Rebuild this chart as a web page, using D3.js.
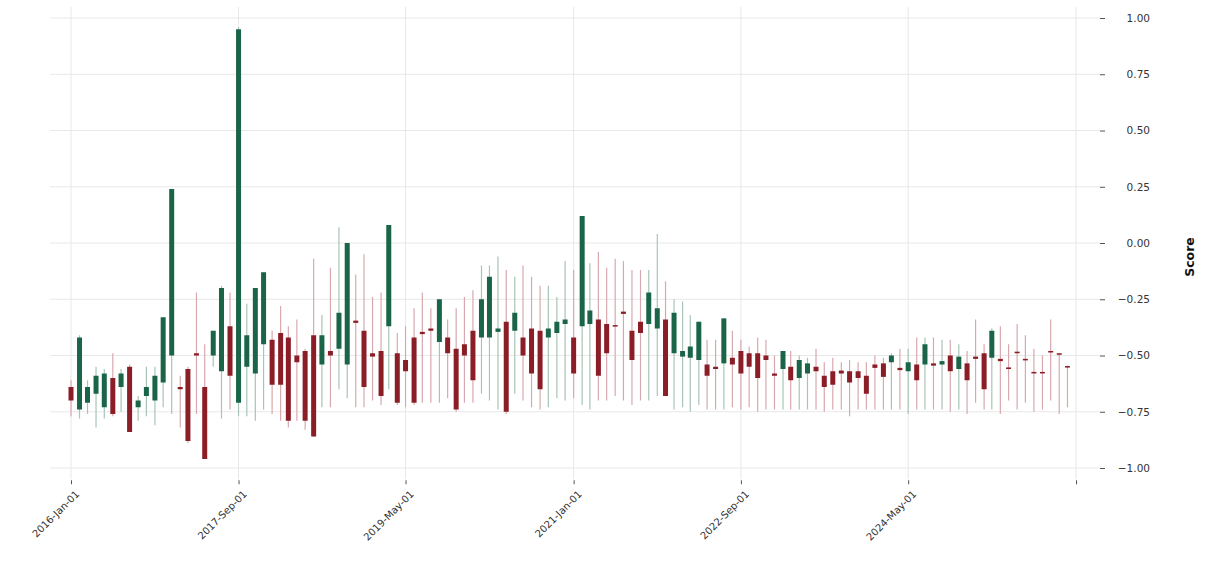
<!DOCTYPE html>
<html>
<head>
<meta charset="utf-8">
<script src="https://cdn.jsdelivr.net/npm/d3@7"></script>
<style>
html,body{margin:0;padding:0;background:#fff;}
svg{display:block;font-family:"DejaVu Sans",sans-serif;}
</style>
</head>
<body>
<svg id="chart" width="1206" height="563"></svg>
<script>
const startMonth = "2016-01-01";
const tickDates = ["2016-01-01","2017-09-01","2019-05-01","2021-01-01","2022-09-01","2024-05-01","2026-01-01"];
const tickLabels = ["2016-Jan-01","2017-Sep-01","2019-May-01","2021-Jan-01","2022-Sep-01","2024-May-01",""];
const yTicks = [1.00,0.75,0.50,0.25,0.00,-0.25,-0.50,-0.75,-1.00];

const openV = [-0.64,-0.74,-0.71,-0.67,-0.73,-0.60,-0.64,-0.55,-0.73,-0.68,
-0.70,-0.62,-0.50,-0.64,-0.56,-0.49,-0.64,-0.50,-0.57,-0.37,
-0.71,-0.55,-0.58,-0.45,-0.43,-0.40,-0.42,-0.50,-0.48,-0.41,
-0.54,-0.48,-0.47,-0.54,-0.345,-0.39,-0.49,-0.48,-0.37,-0.49,
-0.52,-0.42,-0.395,-0.38,-0.44,-0.42,-0.47,-0.45,-0.39,-0.42,
-0.42,-0.395,-0.35,-0.39,-0.42,-0.38,-0.39,-0.42,-0.40,-0.36,
-0.42,-0.37,-0.36,-0.34,-0.36,-0.365,-0.305,-0.39,-0.35,-0.36,
-0.38,-0.34,-0.49,-0.505,-0.51,-0.52,-0.54,-0.55,-0.535,-0.51,
-0.48,-0.49,-0.49,-0.50,-0.58,-0.56,-0.55,-0.60,-0.58,-0.55,
-0.59,-0.57,-0.567,-0.57,-0.57,-0.59,-0.54,-0.535,-0.53,-0.555,
-0.57,-0.54,-0.54,-0.535,-0.54,-0.50,-0.56,-0.535,-0.505,-0.49,
-0.51,-0.515,-0.553,-0.483,-0.515,-0.573,-0.573,-0.48,-0.49,-0.547];
const highV = [-0.61,-0.41,-0.61,-0.55,-0.56,-0.49,-0.56,-0.54,-0.68,-0.55,
-0.55,-0.33,0.24,-0.59,-0.55,-0.22,-0.45,-0.39,-0.19,-0.22,
0.96,-0.27,-0.20,-0.13,-0.39,-0.28,-0.37,-0.34,-0.47,-0.07,
-0.32,-0.11,0.07,0.00,-0.14,-0.05,-0.24,-0.22,0.08,-0.40,
-0.37,-0.29,-0.22,-0.29,-0.25,-0.34,-0.29,-0.24,-0.21,-0.10,
-0.10,-0.06,-0.12,-0.15,-0.10,-0.15,-0.19,-0.19,-0.24,-0.08,
-0.12,0.12,-0.09,-0.04,-0.11,-0.07,-0.08,-0.12,-0.12,-0.12,
0.04,-0.17,-0.25,-0.26,-0.32,-0.35,-0.43,-0.43,-0.335,-0.39,
-0.43,-0.46,-0.42,-0.43,-0.50,-0.48,-0.48,-0.50,-0.51,-0.47,
-0.53,-0.51,-0.53,-0.52,-0.53,-0.53,-0.50,-0.51,-0.49,-0.47,
-0.47,-0.42,-0.42,-0.42,-0.43,-0.43,-0.45,-0.48,-0.34,-0.45,
-0.38,-0.37,-0.45,-0.36,-0.41,-0.47,-0.50,-0.34,-0.49,-0.545];
const lowV = [-0.77,-0.78,-0.76,-0.82,-0.78,-0.77,-0.75,-0.84,-0.79,-0.77,
-0.81,-0.73,-0.76,-0.82,-0.89,-0.76,-0.96,-0.55,-0.78,-0.74,
-0.77,-0.77,-0.79,-0.74,-0.76,-0.79,-0.82,-0.79,-0.83,-0.86,
-0.73,-0.73,-0.65,-0.69,-0.73,-0.73,-0.70,-0.72,-0.65,-0.72,
-0.73,-0.72,-0.71,-0.71,-0.71,-0.69,-0.75,-0.71,-0.71,-0.67,
-0.70,-0.74,-0.76,-0.67,-0.70,-0.73,-0.74,-0.73,-0.69,-0.70,
-0.69,-0.72,-0.74,-0.70,-0.70,-0.68,-0.70,-0.72,-0.70,-0.70,
-0.68,-0.68,-0.74,-0.73,-0.75,-0.72,-0.74,-0.74,-0.74,-0.73,
-0.74,-0.73,-0.75,-0.74,-0.74,-0.74,-0.74,-0.74,-0.74,-0.74,
-0.75,-0.74,-0.74,-0.77,-0.74,-0.74,-0.74,-0.74,-0.74,-0.74,
-0.76,-0.74,-0.74,-0.74,-0.74,-0.75,-0.74,-0.76,-0.71,-0.74,
-0.74,-0.76,-0.70,-0.74,-0.71,-0.75,-0.74,-0.70,-0.76,-0.73];
const closeV = [-0.70,-0.42,-0.64,-0.59,-0.58,-0.76,-0.58,-0.84,-0.70,-0.64,
-0.59,-0.33,0.24,-0.65,-0.88,-0.50,-0.96,-0.39,-0.20,-0.59,
0.95,-0.41,-0.20,-0.13,-0.63,-0.63,-0.79,-0.53,-0.79,-0.86,
-0.41,-0.50,-0.31,0.00,-0.355,-0.64,-0.505,-0.68,0.08,-0.71,
-0.57,-0.71,-0.405,-0.39,-0.25,-0.49,-0.74,-0.50,-0.61,-0.25,
-0.15,-0.38,-0.75,-0.31,-0.50,-0.58,-0.65,-0.38,-0.35,-0.34,
-0.58,0.12,-0.30,-0.59,-0.49,-0.37,-0.315,-0.52,-0.40,-0.22,
-0.29,-0.68,-0.31,-0.48,-0.46,-0.35,-0.59,-0.56,-0.335,-0.54,
-0.58,-0.55,-0.60,-0.52,-0.59,-0.48,-0.61,-0.52,-0.535,-0.57,
-0.64,-0.63,-0.58,-0.62,-0.60,-0.67,-0.555,-0.595,-0.50,-0.565,
-0.53,-0.61,-0.45,-0.545,-0.525,-0.57,-0.505,-0.61,-0.515,-0.65,
-0.39,-0.525,-0.56,-0.49,-0.52,-0.578,-0.578,-0.485,-0.495,-0.552];

const upColor = "#1a6548";
const downColor = "#8b1d26";
const upWick = "#a9c4b7";
const downWick = "#d7a9ae";

const months = d3.timeMonth.range(new Date(2016,0,1), new Date(2026,0,1));
const data = months.map((d,i)=>({date:d, o:openV[i], h:highV[i], l:lowV[i], c:closeV[i]}));

const svg = d3.select("#chart");
const plotL = 50, plotR = 1100, plotT = 6.75, plotB = 479.25;

const x = d3.scaleTime().domain([new Date(2016,0,1), new Date(2026,0,1)]).range([71, 1076]);
const y = d3.scaleLinear().domain([-1.05, 1.05]).range([plotB, plotT]);
const parse = d3.timeParse("%Y-%m-%d");
const tickDateObjs = tickDates.map(parse);

// grid
svg.append("g").selectAll("line.h").data(yTicks).join("line")
  .attr("x1", plotL).attr("x2", plotR)
  .attr("y1", d=>y(d)).attr("y2", d=>y(d))
  .attr("stroke", "#e8e8e8").attr("stroke-width", 1);
svg.append("g").selectAll("line.v").data(tickDateObjs).join("line")
  .attr("x1", d=>x(d)).attr("x2", d=>x(d))
  .attr("y1", plotT).attr("y2", plotB)
  .attr("stroke", "#e8e8e8").attr("stroke-width", 1);

// candles
const bw = 5;
const g = svg.append("g");
g.selectAll("line.wick").data(data).join("line")
  .attr("x1", d=>x(d.date)).attr("x2", d=>x(d.date))
  .attr("y1", d=>y(d.h)).attr("y2", d=>y(d.l))
  .attr("stroke", d=>d.c>=d.o?upWick:downWick).attr("stroke-width", 1.2);
g.selectAll("rect.body").data(data).join("rect")
  .attr("x", d=>x(d.date)-bw/2)
  .attr("width", bw)
  .attr("y", d=>y(Math.max(d.o,d.c)))
  .attr("height", d=>Math.max(1.5, Math.abs(y(d.o)-y(d.c))))
  .attr("fill", d=>d.c>=d.o?upColor:downColor);

// right y axis
const yAxis = d3.axisRight(y).tickValues(yTicks).tickSize(5).tickPadding(8)
  .tickFormat(d=>d3.format(".2f")(d).replace("-","\u2212"));
const ya = svg.append("g").attr("transform", `translate(${plotR},0)`).call(yAxis);
ya.select(".domain").remove();
ya.selectAll("line").attr("stroke", "#555");
ya.selectAll("text").attr("fill", "#333").style("font-size", "10.5px").style("font-family","DejaVu Sans")
  .attr("text-anchor", "end").attr("x", 50);

// bottom x axis
const xAxis = d3.axisBottom(x).tickValues(tickDateObjs).tickSize(4).tickPadding(3)
  .tickFormat((d,i)=>tickLabels[i]);
const xa = svg.append("g").attr("transform", `translate(0,${plotB+1})`).call(xAxis);
xa.select(".domain").remove();
xa.selectAll("line").attr("stroke", "#555");
xa.selectAll("text").attr("fill", "#333").style("font-size", "10px").style("font-family","DejaVu Sans")
  .attr("text-anchor", "end")
  .attr("transform", "translate(1,7) rotate(-45)")
  .attr("dy", "0.35em").attr("dx", "0");

// y label
svg.append("text")
  .attr("transform", `translate(1194,${y(0)+14}) rotate(-90)`)
  .attr("text-anchor", "middle")
  .style("font-size", "12.5px").style("font-weight", "bold").attr("fill", "#111")
  .text("Score");
</script>
</body>
</html>
